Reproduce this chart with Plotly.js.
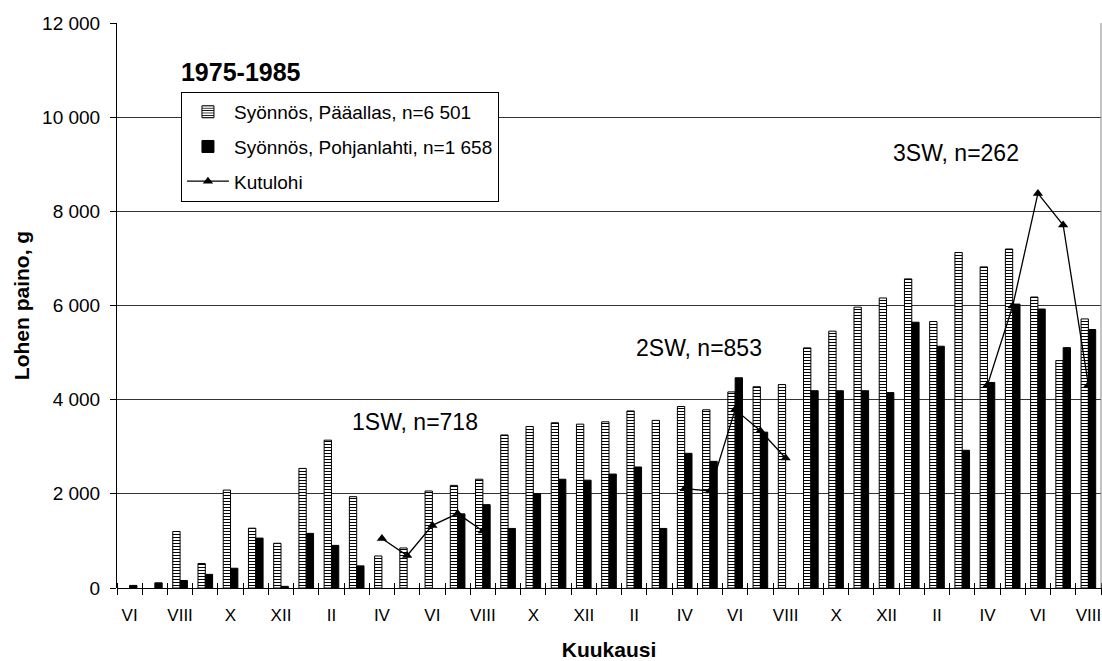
<!DOCTYPE html>
<html><head><meta charset="utf-8">
<script src="https://cdn.plot.ly/plotly-3.0.1.min.js"></script>
<style>html,body{margin:0;padding:0;background:#fff}#chart{width:1102px;height:661px}</style>
</head><body><div id="chart"></div>
<script>
const months = ["VI","VII","VIII","IX","X","XI","XII","I","II","III","IV","V",
                "VI","VII","VIII","IX","X","XI","XII","I","II","III","IV","V",
                "VI","VII","VIII","IX","X","XI","XII","I","II","III","IV","V",
                "VI","VII","VIII"];
const paaallas = [null,null,1200,520,2080,1270,950,2540,3140,1940,680,850,
                  2060,2180,2310,3250,3430,3510,3480,3530,3760,3560,3855,3785,
                  4165,4275,4320,5100,5455,5965,6160,6565,5660,7125,6820,7200,
                  6180,4830,5715];
const pohjanlahti = [55,110,160,290,420,1060,35,1160,905,470,null,null,
                     null,1575,1770,1265,2005,2310,2290,2420,2570,1265,2860,2690,
                     4465,3310,null,4190,4190,4190,4150,5645,5135,2925,4365,6030,
                     5925,5105,5490];
const kutulohi = [null,null,null,null,null,null,null,null,null,null,1050,690,
                  1330,1580,1210,null,null,null,null,null,null,null,2110,2060,
                  3790,3340,2760,null,null,null,null,null,null,null,4310,5990,
                  8380,7710,4310];
const seriesNames = ["Syönnös, Pääallas, n=6 501","Syönnös, Pohjanlahti, n=1 658","Kutulohi"];
const groupLabels = ["1SW, n=718","2SW, n=853","3SW, n=262"];
const chartTitle = "1975-1985";

const F = "Liberation Sans, Arial, Helvetica, sans-serif";
const idx = months.map((m,i)=>i);
const labelIdx = idx.filter(i=>i%2===0);
const labelText = labelIdx.map(i=>months[i]);
const bounds = idx.map(i=>i-0.5).concat([months.length-0.5]);
const xr = [-0.5, months.length-0.5];

const traces = [
  {type:'bar', name:seriesNames[0], x:idx, y:paaallas, legendgroup:'a',
   marker:{color:'white', line:{color:'black', width:1},
           pattern:{shape:'-', fgcolor:'black', bgcolor:'white', size:3, solidity:0.35}}},
  {type:'bar', name:seriesNames[1], x:idx, y:pohjanlahti, legendgroup:'b',
   marker:{color:'black', line:{color:'black', width:1}}},
  {type:'scatter', mode:'lines+markers', name:seriesNames[2], x:idx, y:kutulohi, legendgroup:'c',
   connectgaps:false, line:{color:'black', width:1.3},
   marker:{symbol:'triangle-up', size:9, color:'black'}},
  // empty helper trace so the boundary-tick axis is drawn
  {type:'scatter', mode:'markers', x:[], y:[], xaxis:'x2', yaxis:'y', showlegend:false, hoverinfo:'skip'}
];

const layout = {
  width:1102, height:661,
  margin:{l:117, r:1, t:23, b:73},
  paper_bgcolor:'white', plot_bgcolor:'white',
  font:{family:F, color:'black'},
  separators:', ',
  barmode:'group', bargap:0.42, bargroupgap:0,
  showlegend:true,
  title:{text:'<b>'+chartTitle+'</b>', font:{size:25, family:F, color:'black'},
         xref:'paper', x:0.065, xanchor:'left', yref:'container', y:1-72/661, yanchor:'middle'},
  xaxis:{range:xr, tickmode:'array', tickvals:labelIdx, ticktext:labelText, ticks:'',
         showgrid:false, zeroline:false, showline:false, ticklabelstandoff:15,
         tickfont:{size:17, family:F, color:'black'},
         title:{text:'<b>Kuukausi</b>', font:{size:21, family:F, color:'black'}, standoff:20}},
  xaxis2:{overlaying:'x', anchor:'free', position:6/565, side:'bottom', range:xr,
          tickmode:'array', tickvals:bounds, ticks:'outside', ticklen:12, tickcolor:'black', tickwidth:1,
          showticklabels:false, showgrid:false, zeroline:false, showline:false},
  yaxis:{range:[0,12000], tick0:0, dtick:2000, tickformat:',d', ticks:'outside', ticklen:6,
         tickcolor:'black', showline:true, linecolor:'black', linewidth:1,
         showgrid:true, gridcolor:'#333', gridwidth:1, zeroline:true, zerolinecolor:'black', zerolinewidth:1,
         tickfont:{size:19, family:F, color:'black'}, ticklabelstandoff:6,
         title:{text:'<b>Lohen paino, g</b>', font:{size:21, family:F, color:'black'}, standoff:6}},
  legend:{x:0.065, xanchor:'left', y:0.878, yanchor:'top', bgcolor:'white',
          bordercolor:'black', borderwidth:1, font:{size:19, family:F, color:'black'},
          tracegroupgap:7, traceorder:'grouped', itemwidth:42},
  annotations:[
    {xref:'x', yref:'y', x:11.3, y:3530, text:groupLabels[0], showarrow:false, font:{size:23, family:F, color:'black'}},
    {xref:'x', yref:'y', x:22.55, y:5100, text:groupLabels[1], showarrow:false, font:{size:23, family:F, color:'black'}},
    {xref:'x', yref:'y', x:32.76, y:9240, text:groupLabels[2], showarrow:false, font:{size:23, family:F, color:'black'}}
  ],
  shapes:[{type:'line', xref:'paper', yref:'paper', x0:1, x1:1, y0:0, y1:1, line:{color:'#888', width:1}}]
};

Plotly.newPlot('chart', traces, layout, {staticPlot:true, displayModeBar:false});
</script>
</body></html>
